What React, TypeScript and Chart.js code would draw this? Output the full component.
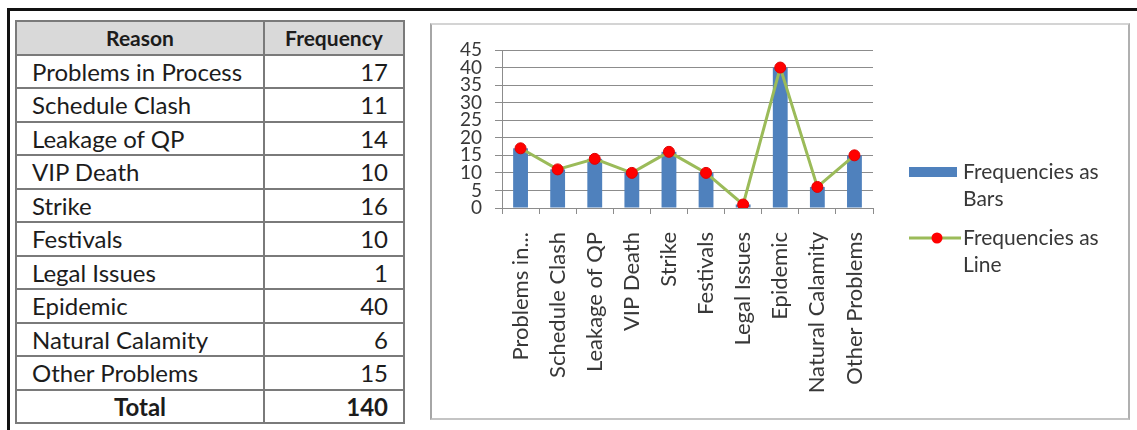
import { useEffect, useRef } from "react";
import { Chart, registerables } from "chart.js";

Chart.register(...registerables);

// Reasons and how often each occurred
const reasons = [
  "Problems in Process",
  "Schedule Clash",
  "Leakage of QP",
  "VIP Death",
  "Strike",
  "Festivals",
  "Legal Issues",
  "Epidemic",
  "Natural Calamity",
  "Other Problems",
];
const frequencies = [17, 11, 14, 10, 16, 10, 1, 40, 6, 15];

const tableHeaders = ["Reason", "Frequency"];
const totalLabel = "Total";
const seriesLabels = ["Frequencies as Bars", "Frequencies as Line"];

const Y_MIN = 0;
const Y_MAX = 45;
const Y_STEP = 5;

const BAR_COLOR = "#4f81bd";
const LINE_COLOR = "#9bbb59";
const POINT_COLOR = "#ff0000";
const AXIS_COLOR = "#8c8c8c";
const TEXT_COLOR = "#383838";
const FONT = "Lato";

const MAX_AXIS_LABEL = 16;
const shortLabel = (s: string) => (s.length > MAX_AXIS_LABEL ? s.slice(0, 11) + "..." : s);

const total = frequencies.reduce((a, b) => a + b, 0);

// Legend drawn to the right of the plot, with wrapped labels
const sideLegend = {
  id: "sideLegend",
  afterDraw(chart: any) {
    const { ctx, chartArea, width } = chart;
    const swatchLeft = chartArea.right + 36;
    const swatchW = 48;
    const textX = swatchLeft + swatchW + 6;
    const maxW = width - textX - 6;
    const lineH = 27;
    ctx.save();
    ctx.font = `21px ${FONT}`;
    ctx.textBaseline = "middle";
    ctx.textAlign = "left";
    const starts = [chartArea.top + 122, chartArea.top + 188];
    chart.data.datasets.forEach((ds: any, i: number) => {
      const words = String(ds.label).split(" ");
      const lines: string[] = [];
      let cur = "";
      words.forEach((w) => {
        const t = cur ? cur + " " + w : w;
        if (cur && ctx.measureText(t).width > maxW) {
          lines.push(cur);
          cur = w;
        } else cur = t;
      });
      if (cur) lines.push(cur);
      const y0 = starts[i];
      if (ds.type === "line") {
        ctx.strokeStyle = ds.borderColor;
        ctx.lineWidth = 3;
        ctx.beginPath();
        ctx.moveTo(swatchLeft, y0);
        ctx.lineTo(swatchLeft + swatchW + 4, y0);
        ctx.stroke();
        ctx.fillStyle = ds.pointBackgroundColor;
        ctx.beginPath();
        ctx.arc(swatchLeft + swatchW / 2 + 4, y0, 5.5, 0, Math.PI * 2);
        ctx.fill();
      } else {
        ctx.fillStyle = ds.backgroundColor;
        ctx.fillRect(swatchLeft, y0 - 5, swatchW, 10);
      }
      ctx.fillStyle = TEXT_COLOR;
      lines.forEach((ln, k) => ctx.fillText(ln, textX, y0 + k * lineH));
    });
    ctx.restore();
  },
};

function FrequencyChart() {
  const ref = useRef<HTMLCanvasElement | null>(null);
  useEffect(() => {
    if (!ref.current) return;
    const chart = new Chart(ref.current, {
      type: "bar",
      data: {
        labels: reasons,
        datasets: [
          {
            type: "bar",
            label: seriesLabels[0],
            data: frequencies,
            backgroundColor: BAR_COLOR,
            categoryPercentage: 1,
            barPercentage: 0.4,
            order: 1,
          },
          {
            type: "line",
            label: seriesLabels[1],
            data: frequencies,
            borderColor: LINE_COLOR,
            borderWidth: 3,
            pointRadius: 5.5,
            pointBackgroundColor: POINT_COLOR,
            pointBorderColor: "#e00000",
            pointBorderWidth: 1,
            tension: 0,
            order: 0,
          } as any,
        ],
      },
      options: {
        responsive: false,
        animation: false,
        layout: { padding: { top: 25, left: 0, right: 255, bottom: 0 } },
        plugins: { legend: { display: false }, tooltip: { enabled: false } },
        scales: {
          x: {
            offset: true,
            grid: { offset: true, drawOnChartArea: false, tickLength: 6, color: AXIS_COLOR },
            border: { color: AXIS_COLOR },
            ticks: {
              autoSkip: false,
              maxRotation: 90,
              minRotation: 90,
              padding: 18,
              color: TEXT_COLOR,
              font: { family: FONT, size: 22 },
              callback: (_v: any, i: number) => shortLabel(reasons[i]),
            },
            afterFit: (s: any) => {
              s.height = 210;
            },
          },
          y: {
            min: Y_MIN,
            max: Y_MAX,
            ticks: {
              stepSize: Y_STEP,
              autoSkip: false,
              padding: 13,
              color: TEXT_COLOR,
              font: { family: FONT, size: 19 },
            },
            grid: { color: AXIS_COLOR, tickLength: 7 },
            border: { color: AXIS_COLOR },
            afterFit: (s: any) => {
              s.width = 70;
            },
          },
        },
      },
      plugins: [sideLegend],
    });
    return () => chart.destroy();
  }, []);
  return <canvas ref={ref} width={696} height={393} style={{ display: "block" }} />;
}

const cellBase: React.CSSProperties = {
  borderRight: "2px solid #7a7a7a",
  borderBottom: "2px solid #7a7a7a",
  boxSizing: "border-box",
  display: "flex",
  alignItems: "center",
  padding: "0 15px",
  fontSize: 24,
  whiteSpace: "nowrap",
};

function FrequencyTable() {
  const head: React.CSSProperties = {
    ...cellBase,
    background: "#d9d9d9",
    justifyContent: "center",
    fontWeight: 700,
    fontSize: 21,
  };
  return (
    <div
      style={{
        position: "absolute",
        left: 15,
        top: 20,
        display: "grid",
        gridTemplateColumns: "248px 140px",
        gridAutoRows: "33.5px",
        borderTop: "2px solid #7a7a7a",
        borderLeft: "2px solid #7a7a7a",
        fontFamily: FONT,
        color: "#1c1c1c",
      }}
    >
      <div style={head}>{tableHeaders[0]}</div>
      <div style={head}>{tableHeaders[1]}</div>
      {reasons.map((r, i) => [
        <div key={r + "a"} style={cellBase}>{r}</div>,
        <div key={r + "b"} style={{ ...cellBase, justifyContent: "flex-end" }}>{frequencies[i]}</div>,
      ])}
      <div style={{ ...cellBase, justifyContent: "center", fontWeight: 700 }}>{totalLabel}</div>
      <div style={{ ...cellBase, justifyContent: "flex-end", fontWeight: 700 }}>{total}</div>
    </div>
  );
}

export default function App() {
  return (
    <div
      style={{
        position: "fixed",
        left: 0,
        top: 0,
        width: 1137,
        height: 430,
        background: "#ffffff",
        overflow: "hidden",
      }}
    >
      <div
        style={{
          position: "absolute",
          left: 7,
          top: 8,
          right: 0,
          bottom: -10,
          borderTop: "3px solid #111",
          borderLeft: "3px solid #111",
        }}
      />
      <FrequencyTable />
      <div
        style={{
          position: "absolute",
          left: 430,
          top: 23,
          width: 700,
          height: 397,
          boxSizing: "border-box",
          borderTop: "2px solid #d4d4d4",
          borderLeft: "2px solid #a6a6a6",
          borderRight: "2px solid #b0b0b0",
          borderBottom: "2px solid #c4c4c4",
        }}
      >
        <FrequencyChart />
      </div>
    </div>
  );
}
